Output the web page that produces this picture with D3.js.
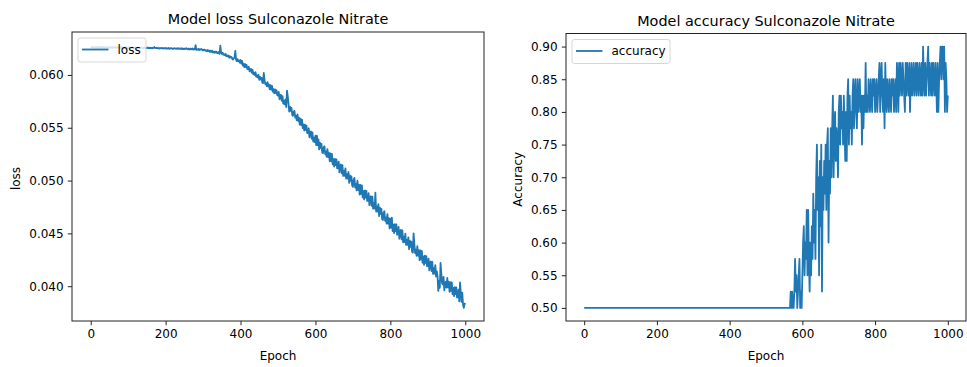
<!DOCTYPE html>
<html>
<head>
<meta charset="utf-8">
<script src="https://cdn.jsdelivr.net/npm/d3@7/dist/d3.min.js"></script>
<style>
  body { margin: 0; background: #fff; }
  svg text { font-family: "DejaVu Sans", sans-serif; fill: #000; }
</style>
</head>
<body>
<svg id="chart" width="967" height="367"></svg>
<script>
// Training history, one value every 2 epochs (epoch 0 .. 1000)
const epochStep = 2;

const lossValues = [
  0.06264, 0.06260, 0.06265, 0.06259, 0.06263, 0.06259, 0.06264, 0.06261, 0.06265, 0.06260,
  0.06259, 0.06264, 0.06258, 0.06262, 0.06263, 0.06259, 0.06264, 0.06258, 0.06262, 0.06259,
  0.06263, 0.06258, 0.06261, 0.06258, 0.06263, 0.06257, 0.06262, 0.06259, 0.06262, 0.06257,
  0.06257, 0.06262, 0.06263, 0.06258, 0.06260, 0.06258, 0.06263, 0.06258, 0.06262, 0.06257,
  0.06261, 0.06257, 0.06262, 0.06256, 0.06260, 0.06256, 0.06261, 0.06258, 0.06262, 0.06257,
  0.06256, 0.06261, 0.06255, 0.06259, 0.06260, 0.06256, 0.06261, 0.06255, 0.06259, 0.06256,
  0.06260, 0.06255, 0.06258, 0.06255, 0.06260, 0.06254, 0.06259, 0.06256, 0.06259, 0.06254,
  0.06253, 0.06258, 0.06259, 0.06254, 0.06256, 0.06254, 0.06259, 0.06254, 0.06258, 0.06253,
  0.06257, 0.06253, 0.06258, 0.06252, 0.06256, 0.06264, 0.06257, 0.06254, 0.06258, 0.06253,
  0.06251, 0.06256, 0.06250, 0.06254, 0.06255, 0.06251, 0.06256, 0.06250, 0.06254, 0.06251,
  0.06255, 0.06248, 0.06252, 0.06249, 0.06255, 0.06247, 0.06253, 0.06250, 0.06254, 0.06247,
  0.06246, 0.06252, 0.06254, 0.06248, 0.06250, 0.06247, 0.06254, 0.06248, 0.06252, 0.06246,
  0.06251, 0.06246, 0.06252, 0.06244, 0.06249, 0.06244, 0.06251, 0.06246, 0.06252, 0.06245,
  0.06242, 0.06250, 0.06240, 0.06247, 0.06249, 0.06241, 0.06250, 0.06240, 0.06246, 0.06242,
  0.06282, 0.06237, 0.06242, 0.06238, 0.06246, 0.06236, 0.06244, 0.06239, 0.06245, 0.06236,
  0.06231, 0.06240, 0.06240, 0.06229, 0.06233, 0.06224, 0.06236, 0.06224, 0.06231, 0.06218,
  0.06230, 0.06218, 0.06229, 0.06213, 0.06221, 0.06209, 0.06222, 0.06212, 0.06221, 0.06206,
  0.06206, 0.06218, 0.06199, 0.06276, 0.06213, 0.06199, 0.06211, 0.06191, 0.06197, 0.06187,
  0.06199, 0.06178, 0.06185, 0.06174, 0.06185, 0.06163, 0.06176, 0.06164, 0.06170, 0.06151,
  0.06146, 0.06160, 0.06162, 0.06228, 0.06145, 0.06131, 0.06150, 0.06129, 0.06138, 0.06116,
  0.06141, 0.06107, 0.06133, 0.06089, 0.06107, 0.06075, 0.06103, 0.06075, 0.06095, 0.06057,
  0.06055, 0.06077, 0.06033, 0.06055, 0.06057, 0.06021, 0.06049, 0.06005, 0.06021, 0.05999,
  0.06027, 0.05981, 0.05997, 0.05976, 0.06001, 0.05953, 0.05982, 0.05956, 0.05972, 0.05930,
  0.05922, 0.06020, 0.05954, 0.05912, 0.05921, 0.05894, 0.05931, 0.05889, 0.05909, 0.05864,
  0.05903, 0.05860, 0.05896, 0.05841, 0.05865, 0.05825, 0.05863, 0.05829, 0.05856, 0.05808,
  0.05804, 0.05840, 0.05770, 0.05807, 0.05811, 0.05754, 0.05799, 0.05729, 0.05756, 0.05722,
  0.05767, 0.05695, 0.05852, 0.05800, 0.05729, 0.05653, 0.05700, 0.05659, 0.05687, 0.05621,
  0.05612, 0.05653, 0.05658, 0.05596, 0.05613, 0.05571, 0.05627, 0.05564, 0.05596, 0.05529,
  0.05586, 0.05524, 0.05576, 0.05496, 0.05532, 0.05474, 0.05530, 0.05479, 0.05520, 0.05450,
  0.05448, 0.05495, 0.05410, 0.05458, 0.05465, 0.05396, 0.05455, 0.05370, 0.05406, 0.05365,
  0.05425, 0.05336, 0.05424, 0.05333, 0.05389, 0.05295, 0.05359, 0.05310, 0.05348, 0.05267,
  0.05259, 0.05315, 0.05325, 0.05249, 0.05273, 0.05224, 0.05297, 0.05221, 0.05263, 0.05183,
  0.05258, 0.05183, 0.05252, 0.05153, 0.05202, 0.05132, 0.05206, 0.05146, 0.05200, 0.05116,
  0.05117, 0.05179, 0.05077, 0.05139, 0.05152, 0.05069, 0.05146, 0.05044, 0.05091, 0.05044,
  0.05116, 0.05018, 0.05061, 0.05018, 0.05081, 0.04978, 0.05050, 0.04998, 0.05040, 0.04953,
  0.04940, 0.05010, 0.05025, 0.04934, 0.04966, 0.04908, 0.04999, 0.04909, 0.04962, 0.04867,
  0.04958, 0.04873, 0.04954, 0.04841, 0.04901, 0.04821, 0.04907, 0.04839, 0.04903, 0.04807,
  0.04810, 0.04880, 0.04768, 0.04837, 0.04852, 0.04761, 0.04847, 0.04734, 0.04786, 0.04734,
  0.04885, 0.04707, 0.04754, 0.04706, 0.04776, 0.04663, 0.04743, 0.04685, 0.04732, 0.04635,
  0.04627, 0.04697, 0.04710, 0.04619, 0.04650, 0.04592, 0.04683, 0.04592, 0.04644, 0.04548,
  0.04639, 0.04554, 0.04650, 0.04522, 0.04582, 0.04502, 0.04588, 0.04520, 0.04584, 0.04488,
  0.04491, 0.04561, 0.04449, 0.04518, 0.04533, 0.04442, 0.04528, 0.04416, 0.04469, 0.04418,
  0.04498, 0.04391, 0.04439, 0.04392, 0.04463, 0.04350, 0.04431, 0.04373, 0.04422, 0.04326,
  0.04318, 0.04500, 0.04403, 0.04313, 0.04345, 0.04287, 0.04379, 0.04288, 0.04342, 0.04247,
  0.04338, 0.04254, 0.04334, 0.04222, 0.04282, 0.04202, 0.04289, 0.04220, 0.04285, 0.04189,
  0.04192, 0.04262, 0.04150, 0.04219, 0.04234, 0.04143, 0.04229, 0.04117, 0.04170, 0.04119,
  0.04199, 0.04092, 0.04140, 0.04093, 0.03955, 0.04051, 0.03985, 0.04220, 0.04122, 0.04026,
  0.04018, 0.04089, 0.03960, 0.04013, 0.04044, 0.03986, 0.04078, 0.03988, 0.04042, 0.03947,
  0.04039, 0.03955, 0.04036, 0.03924, 0.03984, 0.03905, 0.03992, 0.03924, 0.03989, 0.03893,
  0.03897, 0.03968, 0.03856, 0.04035, 0.03941, 0.03851, 0.03938, 0.03826, 0.03795, 0.03829,
  0.03840
];

const accuracyValues = [
  // epochs 0 .. 566
  0.5, 0.5, 0.5, 0.5, 0.5, 0.5, 0.5, 0.5, 0.5, 0.5,
  0.5, 0.5, 0.5, 0.5, 0.5, 0.5, 0.5, 0.5, 0.5, 0.5,
  0.5, 0.5, 0.5, 0.5, 0.5, 0.5, 0.5, 0.5, 0.5, 0.5,
  0.5, 0.5, 0.5, 0.5, 0.5, 0.5, 0.5, 0.5, 0.5, 0.5,
  0.5, 0.5, 0.5, 0.5, 0.5, 0.5, 0.5, 0.5, 0.5, 0.5,
  0.5, 0.5, 0.5, 0.5, 0.5, 0.5, 0.5, 0.5, 0.5, 0.5,
  0.5, 0.5, 0.5, 0.5, 0.5, 0.5, 0.5, 0.5, 0.5, 0.5,
  0.5, 0.5, 0.5, 0.5, 0.5, 0.5, 0.5, 0.5, 0.5, 0.5,
  0.5, 0.5, 0.5, 0.5, 0.5, 0.5, 0.5, 0.5, 0.5, 0.5,
  0.5, 0.5, 0.5, 0.5, 0.5, 0.5, 0.5, 0.5, 0.5, 0.5,
  0.5, 0.5, 0.5, 0.5, 0.5, 0.5, 0.5, 0.5, 0.5, 0.5,
  0.5, 0.5, 0.5, 0.5, 0.5, 0.5, 0.5, 0.5, 0.5, 0.5,
  0.5, 0.5, 0.5, 0.5, 0.5, 0.5, 0.5, 0.5, 0.5, 0.5,
  0.5, 0.5, 0.5, 0.5, 0.5, 0.5, 0.5, 0.5, 0.5, 0.5,
  0.5, 0.5, 0.5, 0.5, 0.5, 0.5, 0.5, 0.5, 0.5, 0.5,
  0.5, 0.5, 0.5, 0.5, 0.5, 0.5, 0.5, 0.5, 0.5, 0.5,
  0.5, 0.5, 0.5, 0.5, 0.5, 0.5, 0.5, 0.5, 0.5, 0.5,
  0.5, 0.5, 0.5, 0.5, 0.5, 0.5, 0.5, 0.5, 0.5, 0.5,
  0.5, 0.5, 0.5, 0.5, 0.5, 0.5, 0.5, 0.5, 0.5, 0.5,
  0.5, 0.5, 0.5, 0.5, 0.5, 0.5, 0.5, 0.5, 0.5, 0.5,
  0.5, 0.5, 0.5, 0.5, 0.5, 0.5, 0.5, 0.5, 0.5, 0.5,
  0.5, 0.5, 0.5, 0.5, 0.5, 0.5, 0.5, 0.5, 0.5, 0.5,
  0.5, 0.5, 0.5, 0.5, 0.5, 0.5, 0.5, 0.5, 0.5, 0.5,
  0.5, 0.5, 0.5, 0.5, 0.5, 0.5, 0.5, 0.5, 0.5, 0.5,
  0.5, 0.5, 0.5, 0.5, 0.5, 0.5, 0.5, 0.5, 0.5, 0.5,
  0.5, 0.5, 0.5, 0.5, 0.5, 0.5, 0.5, 0.5, 0.5, 0.5,
  0.5, 0.5, 0.5, 0.5, 0.5, 0.5, 0.5, 0.5, 0.5, 0.5,
  0.5, 0.5, 0.5, 0.5, 0.5, 0.5, 0.5, 0.5, 0.5, 0.5,
  0.5, 0.5, 0.5, 0.5,
  // epochs 568 .. 578
  0.525, 0.5, 0.525, 0.5, 0.5, 0.525,
  // epochs 580 .. 998
  0.575, 0.525, 0.55, 0.5, 0.525, 0.55, 0.575, 0.5, 0.525, 0.5,
  0.55, 0.6, 0.625, 0.55, 0.6, 0.575, 0.65, 0.55, 0.65, 0.575,
  0.525, 0.6, 0.55, 0.625, 0.575, 0.675, 0.6, 0.65, 0.575, 0.7,
  0.75, 0.65, 0.7, 0.55, 0.725, 0.625, 0.75, 0.525, 0.7, 0.65,
  0.725, 0.675, 0.75, 0.65, 0.75, 0.775, 0.6, 0.725, 0.675, 0.775,
  0.7, 0.775, 0.825, 0.7, 0.775, 0.8, 0.725, 0.775, 0.75, 0.7,
  0.8, 0.825, 0.75, 0.825, 0.775, 0.8, 0.75, 0.825, 0.775, 0.725,
  0.8, 0.725, 0.825, 0.85, 0.75, 0.825, 0.775, 0.8, 0.75, 0.825,
  0.85, 0.775, 0.825, 0.85, 0.8, 0.775, 0.85, 0.8, 0.825, 0.85,
  0.8, 0.825, 0.75, 0.825, 0.775, 0.825, 0.8, 0.875, 0.8, 0.825,
  0.8, 0.85, 0.825, 0.8, 0.85, 0.825, 0.8, 0.85, 0.825, 0.85,
  0.8, 0.825, 0.85, 0.8, 0.825, 0.85, 0.875, 0.8, 0.85, 0.875,
  0.825, 0.8, 0.85, 0.775, 0.875, 0.825, 0.8, 0.85, 0.825, 0.8,
  0.85, 0.825, 0.8, 0.85, 0.825, 0.85, 0.8, 0.825, 0.85, 0.8,
  0.875, 0.85, 0.8, 0.875, 0.825, 0.875, 0.85, 0.825, 0.875, 0.85,
  0.825, 0.8, 0.875, 0.825, 0.875, 0.85, 0.825, 0.875, 0.8, 0.85,
  0.875, 0.825, 0.85, 0.875, 0.825, 0.85, 0.875, 0.825, 0.875, 0.85,
  0.825, 0.875, 0.85, 0.825, 0.875, 0.825, 0.9, 0.85, 0.825, 0.875,
  0.825, 0.85, 0.875, 0.9, 0.825, 0.875, 0.85, 0.825, 0.875, 0.825,
  0.875, 0.85, 0.825, 0.875, 0.85, 0.8, 0.875, 0.8, 0.85, 0.875,
  0.9, 0.85, 0.9, 0.9, 0.85, 0.9, 0.8, 0.875, 0.85, 0.8,
  // epoch 1000
  0.825
];

const epochTicks = [0, 200, 400, 600, 800, 1000];
const lossTicks = [0.040, 0.045, 0.050, 0.055, 0.060];
const accuracyTicks = [0.50, 0.55, 0.60, 0.65, 0.70, 0.75, 0.80, 0.85, 0.90];

const COLOR = "#1f77b4";
const svg = d3.select("#chart");

const panels = [
  {
    id: "loss", values: lossValues, ticks: lossTicks, fmt: d3.format(".3f"),
    title: "Model loss Sulconazole Nitrate", titleY: 24.3, ylabel: "loss", ylabelX: 20,
    legend: "loss", legendW: 68,
    box: { left: 72, right: 484, top: 32, bottom: 321 }
  },
  {
    id: "acc", values: accuracyValues, ticks: accuracyTicks, fmt: d3.format(".2f"),
    title: "Model accuracy Sulconazole Nitrate", titleY: 25.8, ylabel: "Accuracy", ylabelX: 522,
    legend: "accuracy", legendW: 98,
    box: { left: 566, right: 966, top: 33.5, bottom: 321 }
  }
];

// matplotlib-like autoscale: data extent plus 5% on each side
function padded(ext) {
  const m = (ext[1] - ext[0]) * 0.05;
  return [ext[0] - m, ext[1] + m];
}

panels.forEach(p => {
  const b = p.box;
  const epochs = p.values.map((_, i) => i * epochStep);
  const x = d3.scaleLinear().domain(padded(d3.extent(epochs))).range([b.left, b.right]);
  const y = d3.scaleLinear().domain(padded(d3.extent(p.values))).range([b.bottom, b.top]);

  const g = svg.append("g");

  g.append("clipPath").attr("id", "clip-" + p.id)
    .append("rect").attr("x", b.left).attr("y", b.top)
    .attr("width", b.right - b.left).attr("height", b.bottom - b.top);

  // series line
  const line = d3.line().x((d, i) => x(epochs[i])).y(d => y(d));
  g.append("path")
    .datum(p.values)
    .attr("clip-path", "url(#clip-" + p.id + ")")
    .attr("d", line)
    .attr("fill", "none")
    .attr("stroke", COLOR)
    .attr("stroke-width", 1.8)
    .attr("stroke-linejoin", "round");

  // axes
  const xAxis = d3.axisBottom(x).tickValues(epochTicks).tickSize(4.2).tickPadding(4.2)
    .tickFormat(d3.format("d"));
  const yAxis = d3.axisLeft(y).tickValues(p.ticks).tickSize(4.2).tickPadding(4.2)
    .tickFormat(p.fmt);

  const gx = g.append("g").attr("transform", `translate(0,${b.bottom})`).call(xAxis);
  const gy = g.append("g").attr("transform", `translate(${b.left},0)`).call(yAxis);
  [gx, gy].forEach(a => {
    a.select(".domain").remove();
    a.selectAll(".tick line").attr("stroke", "#222").attr("stroke-width", 1);
    a.selectAll(".tick text").attr("font-size", 12).attr("fill", "#000")
      .style("font-family", '"DejaVu Sans", sans-serif');
  });

  // frame
  g.append("rect")
    .attr("x", b.left).attr("y", b.top)
    .attr("width", b.right - b.left).attr("height", b.bottom - b.top)
    .attr("fill", "none").attr("stroke", "#222").attr("stroke-width", 1);

  // titles and labels
  const cx = (b.left + b.right) / 2;
  g.append("text").attr("x", cx).attr("y", p.titleY)
    .attr("text-anchor", "middle").attr("font-size", 14.4).text(p.title);
  g.append("text").attr("x", cx).attr("y", 359.5)
    .attr("text-anchor", "middle").attr("font-size", 12).text("Epoch");
  const cy = (b.top + b.bottom) / 2 + 2;
  g.append("text")
    .attr("transform", `translate(${p.ylabelX},${cy}) rotate(-90)`)
    .attr("text-anchor", "middle").attr("font-size", 12).text(p.ylabel);

  // legend (upper left)
  const lx = b.left + 6, ly = b.top + 6;
  const lg = g.append("g");
  lg.append("rect")
    .attr("x", lx).attr("y", ly).attr("width", p.legendW).attr("height", 24)
    .attr("rx", 2.5).attr("ry", 2.5)
    .attr("fill", "#fff").attr("fill-opacity", 0.8)
    .attr("stroke", "#ccc").attr("stroke-opacity", 0.8).attr("stroke-width", 1);
  lg.append("line")
    .attr("x1", lx + 4).attr("x2", lx + 30.5)
    .attr("y1", ly + 11.5).attr("y2", ly + 11.5)
    .attr("stroke", COLOR).attr("stroke-width", 1.8);
  lg.append("text")
    .attr("x", lx + 39.5).attr("y", ly + 15.8)
    .attr("font-size", 12).text(p.legend);
});
</script>
</body>
</html>
